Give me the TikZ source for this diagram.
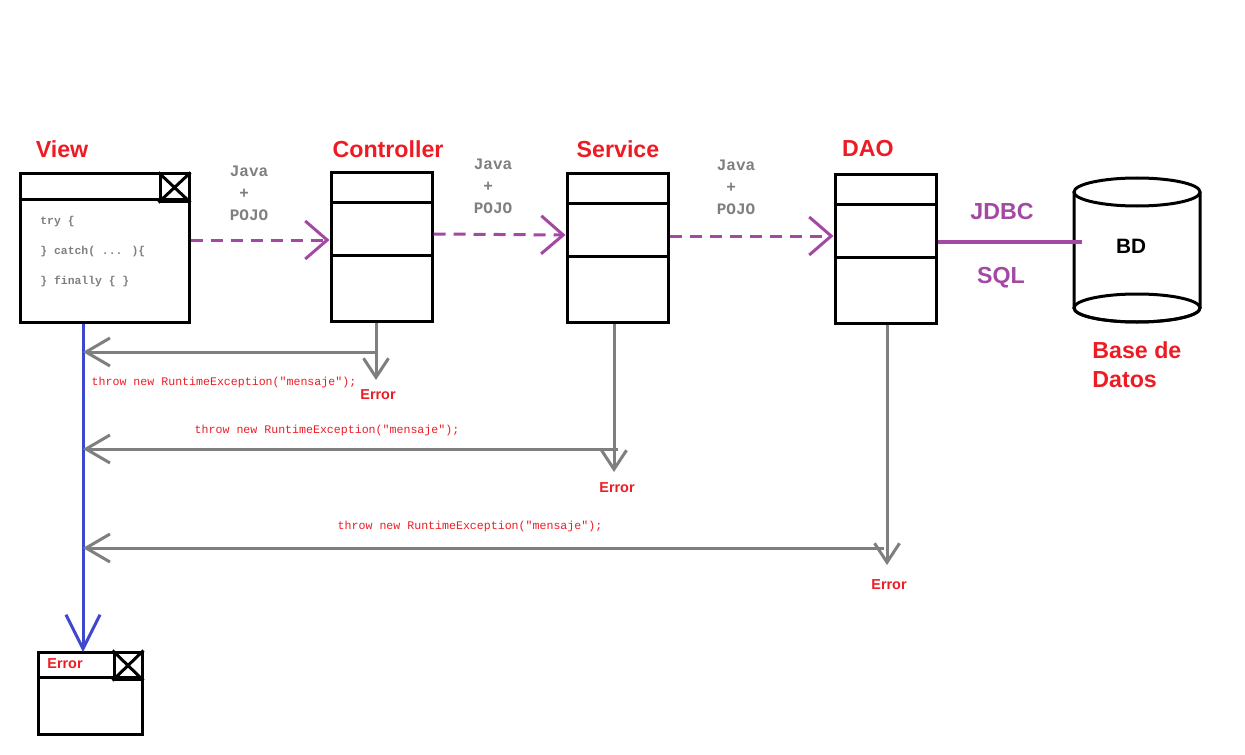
\documentclass[tikz,border=0pt]{standalone}
\usepackage{fontspec}
\setmainfont{Liberation Sans}
\newfontfamily\codefont{Liberation Mono}
\usetikzlibrary{arrows.meta}
\definecolor{paintred}{RGB}{237,28,36}
\definecolor{paintpurple}{RGB}{163,73,164}
\definecolor{paintgray}{RGB}{127,127,127}
\definecolor{paintblue}{RGB}{63,72,204}

\begin{document}
\begin{tikzpicture}[x=0.5pt,y=-0.5pt,
    box line/.style={draw=black,line width=1.5pt},
    layer box/.style={box line,minimum width=50.5pt,minimum height=74pt,inner sep=0pt},
    close box/.style={box line,minimum width=14.5pt,minimum height=13.5pt,inner sep=0pt,anchor=north east},
    title/.style={font=\fontsize{11.6}{14.5}\selectfont\bfseries,text=paintred,inner sep=0pt},
    err label/.style={font=\fontsize{7.2}{9}\selectfont\bfseries,text=paintred,inner sep=0pt},
    pojo text/.style={font=\codefont\bfseries\fontsize{8}{11}\selectfont,text=paintgray,align=left,inner sep=0pt},
    code text/.style={font=\codefont\bfseries\fontsize{5.7}{15}\selectfont,text=paintgray,align=left,inner sep=0pt},
    throw text/.style={font=\codefont\fontsize{5.8}{7}\selectfont,text=paintred,inner sep=0pt},
    pojo/.style={color=paintpurple,line width=1.5pt,dash pattern=on 6pt off 4pt,-{Straight Barb[length=11pt,width=19pt]}},
    throw back/.style={color=paintgray,line width=1.5pt,-{Straight Barb[length=12pt,width=14pt]}},
    err drop/.style={color=paintgray,line width=1.5pt,-{Straight Barb[length=9.5pt,width=12.5pt]}}]
  \useasboundingbox (0,0) rectangle (1245,754);
  % titles
  \node[title] (viewlbl) at (62,149) {View};
  \node[title] (ctrllbl) at (388,149) {Controller};
  \node[title] (svclbl) at (618,149) {Service};
  \node[title] (daolbl) at (868,149) {DAO};
  % view window
  \node[box line,minimum width=84.5pt,minimum height=74pt,inner sep=0pt] (view) at (104.5,248) {};
  \draw[box line] ([yshift=-13.5pt]view.north west) -- ([yshift=-13.5pt]view.north east);
  \node[close box] (viewx) at (view.north east) {};
  \draw[box line] (viewx.north west) -- (viewx.south east) (viewx.north east) -- (viewx.south west);
  \node[code text,anchor=west] (trycode) at (40,252) {try \{\\\} catch( ... )\{\\\} finally \{ \}};
  % layers
  \node[layer box] (ctrl) at (381.5,247) {};
  \node[layer box] (svc) at (617.5,248) {};
  \node[layer box] (dao) at (885.5,249) {};
  \foreach \b in {ctrl,svc,dao}{
    \draw[box line] ([yshift=-15.5pt]\b.north west) -- ([yshift=-15.5pt]\b.north east);
    \draw[box line] ([yshift=-42pt]\b.north west) -- ([yshift=-42pt]\b.north east);
  }
  \node[pojo text] (jp1) at (249,193) {Java\\\phantom{J}+\\POJO};
  \node[pojo text] (jp2) at (493,186) {Java\\\phantom{J}+\\POJO};
  \node[pojo text] (jp3) at (736,187) {Java\\\phantom{J}+\\POJO};
  \path[pojo] ([yshift=4pt]view.east) edge ([yshift=3.5pt]ctrl.west);
  \path[pojo] ([yshift=6.5pt]ctrl.east) edge ([yshift=6.5pt]svc.west);
  \path[pojo] ([yshift=6pt]svc.east) edge ([yshift=6.5pt]dao.west);
  % data base
  \draw[box line,fill=white] (1074,192) -- (1074,308) arc[start angle=180,end angle=360,x radius=31.5pt,y radius=7pt] -- (1200,192);
  \draw[box line] (1137,308) ellipse [x radius=31.5pt,y radius=7pt];
  \draw[box line,fill=white] (1137,192) ellipse [x radius=31.5pt,y radius=7pt];
  \coordinate (bd) at (1082,242);
  \node[font=\fontsize{10.4}{12}\selectfont\bfseries,inner sep=0pt] (bdlbl) at (1131,246) {BD};
  \path[-,color=paintpurple,line width=2.4pt] ([yshift=3.5pt]dao.east) edge (bd);
  \node[title,text=paintpurple] (jdbc) at (1002,212) {JDBC};
  \node[title,text=paintpurple] (sql) at (1001,278) {SQL};
  \node[title,align=left,anchor=west] (dblbl) at (1092,365) {Base de\\Datos};
  % error window
  \coordinate (errtop) at (83,652);
  \node[box line,minimum width=52pt,minimum height=41pt,inner sep=0pt] (errwin) at (90,693) {};
  \draw[box line] ([yshift=-13.5pt]errwin.north west) -- ([yshift=-13.5pt]errwin.north east);
  \node[close box,minimum width=14pt] (errx) at (errwin.north east) {};
  \draw[box line] (errx.north west) -- (errx.south east) (errx.north east) -- (errx.south west);
  \node[err label] (errtitle) at (65,664) {Error};
  \path[color=paintblue,line width=1.5pt,-{Straight Barb[length=17pt,width=17pt]}] (view.south -| errtop) edge (errtop);
  % thrown errors
  \coordinate (ctrlerr) at (376,380);
  \coordinate (ctrlback) at (376,352);
  \coordinate (svcerr) at (614,472);
  \coordinate (svcback) at (618,449);
  \coordinate (daoerr) at (887,565);
  \coordinate (daoback) at (884,548);
  \path[err drop] (ctrl.south -| ctrlerr) edge (ctrlerr);
  \path[err drop] (svc.south -| svcerr) edge (svcerr);
  \path[err drop] (dao.south -| daoerr) edge (daoerr);
  \path[throw back] (ctrlback) edge (errtop |- ctrlback);
  \path[throw back] (svcback) edge (errtop |- svcback);
  \path[throw back] (daoback) edge (errtop |- daoback);
  \node[throw text] (thr1) at (224,382) {throw new RuntimeException("mensaje");};
  \node[throw text] (thr2) at (327,430) {throw new RuntimeException("mensaje");};
  \node[throw text] (thr3) at (470,526) {throw new RuntimeException("mensaje");};
  \node[err label] (err1) at (378,395) {Error};
  \node[err label] (err2) at (617,488) {Error};
  \node[err label] (err3) at (889,585) {Error};
\end{tikzpicture}
\end{document}
